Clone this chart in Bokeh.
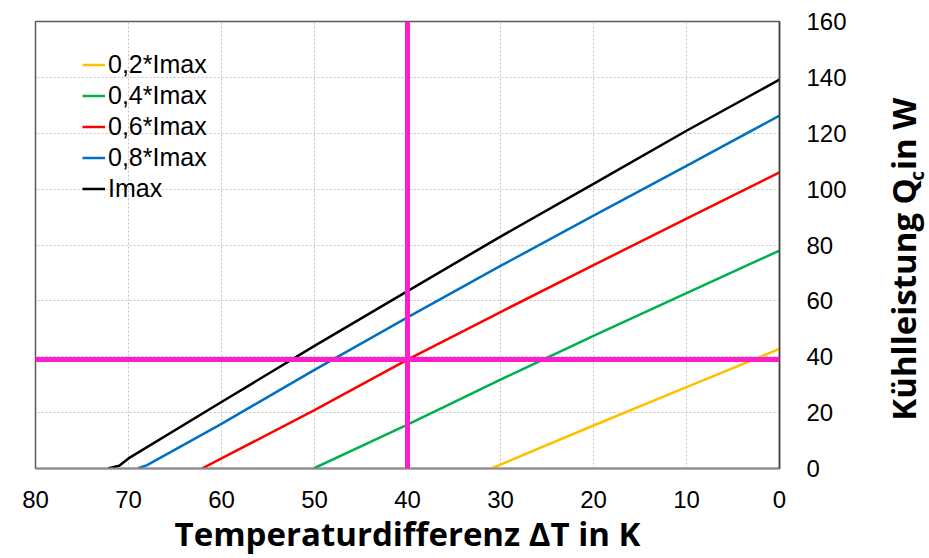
import math
from bokeh.plotting import figure
from bokeh.models import Range1d, FixedTicker, Span, LinearAxis, Legend
from bokeh.layouts import row
from bokeh.core.properties import value
from bokeh.embed import file_html
from bokeh.resources import INLINE

# ---- data ----
dT_02 = [31.0, 30, 20, 10, 0]
q_02 = [0.0, 1.4, 15.4, 29.1, 42.8]

dT_04 = [50.1, 40, 30, 20, 10, 0]
q_04 = [0.0, 15.7, 31.8, 47.5, 62.8, 78.0]

dT_06 = [62.1, 60, 50, 40, 30, 20, 10, 0]
q_06 = [0.0, 3.6, 20.9, 39.0, 56.0, 72.8, 89.4, 106.0]

dT_08 = [69.0, 68, 60, 50, 40, 30, 20, 10, 0]
q_08 = [0.0, 1.2, 16.0, 35.3, 54.1, 72.5, 90.5, 108.3, 126.3]

dT_10 = [72.2, 71, 70, 60, 50, 40, 30, 20, 10, 0]
q_10 = [0.0, 1.0, 3.6, 23.8, 43.9, 63.5, 83.0, 101.9, 120.9, 139.2]

series_labels = ["0,2*Imax", "0,4*Imax", "0,6*Imax", "0,8*Imax", "Imax"]
series_colors = ["#ffc000", "#00b050", "#ff0000", "#0070c0", "#000000"]

x_ticks = [0, 10, 20, 30, 40, 50, 60, 70, 80]
y_ticks = [0, 20, 40, 60, 80, 100, 120, 140, 160]

marker_dT = 40
marker_Q = 39

x_title = "Temperaturdifferenz ΔT in K"
y_title_parts = ["Kühlleistung Q", "c", " in W"]

# ---- main figure ----
p = figure(width=859, height=558, output_backend="svg", toolbar_location=None,
           x_range=Range1d(80, 0), y_range=Range1d(0, 160),
           min_border_left=35, min_border_right=80, min_border_top=21,
           min_border_bottom=88, y_axis_location=None)
p.background_fill_color = "white"
p.border_fill_color = "white"
p.outline_line_color = "#5a5a5a"
p.outline_line_width = 1.5

yaxis = LinearAxis(ticker=FixedTicker(ticks=y_ticks))
p.add_layout(yaxis, "right")

for ax in [p.xaxis[0], yaxis]:
    ax.major_tick_in = 0
    ax.major_tick_out = 0
    ax.minor_tick_in = 0
    ax.minor_tick_out = 0
    ax.major_label_text_font = "Liberation Sans"
    ax.major_label_text_font_size = "24px"
    ax.major_label_text_color = "black"

p.xaxis.ticker = FixedTicker(ticks=x_ticks)
p.xaxis.major_label_standoff = 22
p.xaxis.axis_line_color = "#8c8c8c"
p.xaxis.axis_line_width = 2
p.xaxis.axis_label = x_title
p.xaxis.axis_label_text_font = "Open Sans"
p.xaxis.axis_label_text_font_style = "bold"
p.xaxis.axis_label_text_font_size = "33px"
p.xaxis.axis_label_text_color = "black"
p.xaxis.axis_label_standoff = 0
yaxis.major_label_standoff = 27
yaxis.axis_line_color = "#404040"
yaxis.axis_line_width = 1.5

p.xgrid.ticker = FixedTicker(ticks=x_ticks)
p.ygrid.ticker = FixedTicker(ticks=y_ticks)
for g in [p.xgrid[0], p.ygrid[0]]:
    g.grid_line_color = "#c4c4c4"
    g.grid_line_dash = "2 2"
    g.grid_line_width = 1

# ---- series ----
xs = [dT_02, dT_04, dT_06, dT_08, dT_10]
ys = [q_02, q_04, q_06, q_08, q_10]
items = []
for x, y, lab, col in zip(xs, ys, series_labels, series_colors):
    r = p.line(x, y, line_color=col, line_width=2.5)
    items.append((lab, [r]))

# ---- magenta crosshair ----
p.add_layout(Span(location=marker_dT, dimension="height", line_color="#ff1ccb", line_width=5))
p.add_layout(Span(location=marker_Q, dimension="width", line_color="#ff1ccb", line_width=5))

legend = Legend(items=items, location=(47, 264))
legend.padding = 0
legend.margin = 0
legend.spacing = 0
legend.border_line_color = None
legend.background_fill_alpha = 0
legend.glyph_width = 23
legend.glyph_height = 31
legend.label_height = 31
legend.label_standoff = 3
legend.label_text_font = "Liberation Sans"
legend.label_text_font_size = "25px"
legend.label_text_color = "black"
p.add_layout(legend, "center")

# ---- side strip holding the rotated y title ----
# its frame is aligned with the main frame (page rows 21..470), so the
# ranges below map page pixels (x, 558 - y) one to one
s = figure(width=70, height=558, output_backend="svg", toolbar_location=None,
           x_range=Range1d(859, 929), y_range=Range1d(558 - 470, 558 - 21),
           min_border=0, x_axis_location=None, y_axis_location=None)
s.outline_line_color = None
s.xgrid.visible = False
s.ygrid.visible = False
s.background_fill_color = "white"
s.border_fill_color = "white"

s.text(x=[903], y=[558 - 422], text=[y_title_parts[0]], angle=math.pi / 2,
       text_align="left", text_baseline="alphabetic",
       text_font=value("Open Sans"), text_font_style="bold",
       text_font_size="33px", text_color="black")
s.text(x=[916], y=[558 - 181], text=[y_title_parts[1]], angle=math.pi / 2,
       text_align="left", text_baseline="alphabetic",
       text_font=value("Open Sans"), text_font_style="bold",
       text_font_size="19px", text_color="black")
s.text(x=[903], y=[558 - 89], text=[y_title_parts[2]], angle=math.pi / 2,
       text_align="right", text_baseline="alphabetic",
       text_font=value("Open Sans"), text_font_style="bold",
       text_font_size="33px", text_color="black")

layout = row(p, s, spacing=0)
open("out.html", "w").write(file_html(layout, INLINE))
